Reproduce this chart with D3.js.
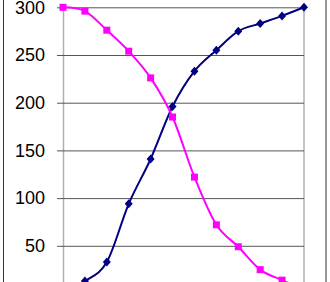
<!DOCTYPE html>
<html>
<head>
    <meta charset="utf-8" />
    <title>Crossing Curves</title>
    <script src="https://d3js.org/d3.v7.min.js"></script>
    <style>
        body { margin: 0; background: #fff; }
    </style>
</head>
<body>
<svg width="330" height="282"></svg>
<script>
    // Data
    var categories = [1, 2, 3, 4, 5, 6, 7, 8, 9, 10, 11, 12];
    var falling = [300, 296, 276, 254, 226, 185, 122, 72, 49, 25, 14, 4];
    var rising = [0, 13, 33, 94, 141, 196, 233, 255, 275, 283, 291, 300];
    // the 0 line sits below the visible crop, so only these show
    var yTicks = [50, 100, 150, 200, 250, 300];

    var svg = d3.select("svg");

    // Plot area
    var plotLeft = 63, plotRight = 304, plotTop = 7.3, plotBottom = 293.5;

    var x = d3.scalePoint().domain(categories).range([plotLeft, plotRight]);
    var y = d3.scaleLinear().domain([0, 300]).range([plotBottom, plotTop]);

    // Outer chart frame
    svg.append("rect")
        .attr("x", 3.5).attr("y", -10)
        .attr("width", 322.5).attr("height", 310)
        .attr("fill", "none").attr("stroke", "#333").attr("stroke-width", 1);

    // Right plot border
    svg.append("line")
        .attr("x1", plotRight).attr("x2", plotRight)
        .attr("y1", plotTop).attr("y2", plotBottom)
        .attr("stroke", "#b0b0b0").attr("stroke-width", 1.5);

    // Y axis with gridlines
    var axis = svg.append("g")
        .attr("transform", "translate(" + plotLeft + ",0)")
        .call(d3.axisLeft(y).tickValues(yTicks).tickSize(6).tickPadding(12).tickSizeOuter(0));

    axis.select(".domain").attr("stroke", "#b0b0b0").attr("stroke-width", 1.5);
    axis.selectAll(".tick line")
        .attr("x1", plotRight - plotLeft)
        .attr("stroke", "#555");
    axis.selectAll(".tick text")
        .attr("fill", "#000")
        .style("font-size", "18px")
        .style("font-family", "Liberation Sans, Arial, sans-serif");

    var curve = d3.curveCardinal.tension(0);

    function drawSeries(values, color) {
        var line = d3.line()
            .x(function (d, i) { return x(categories[i]); })
            .y(function (d) { return y(d); })
            .curve(curve);
        svg.append("path")
            .datum(values)
            .attr("d", line)
            .attr("fill", "none")
            .attr("stroke", color)
            .attr("stroke-width", 2);
    }

    drawSeries(rising, "#000080");
    drawSeries(falling, "#ff00ff");

    // Markers: navy diamonds
    svg.selectAll(".diamond")
        .data(rising)
        .enter()
        .append("path")
        .attr("class", "diamond")
        .attr("transform", function (d, i) { return "translate(" + x(categories[i]) + "," + y(d) + ")"; })
        .attr("d", "M0,-4.5L4,0L0,4.5L-4,0Z")
        .attr("fill", "#000080");

    // Markers: pink squares
    svg.selectAll(".square")
        .data(falling)
        .enter()
        .append("rect")
        .attr("class", "square")
        .attr("x", function (d, i) { return x(categories[i]) - 3.5; })
        .attr("y", function (d) { return y(d) - 3.5; })
        .attr("width", 7)
        .attr("height", 7)
        .attr("fill", "#ff00ff");
</script>
</body>
</html>
